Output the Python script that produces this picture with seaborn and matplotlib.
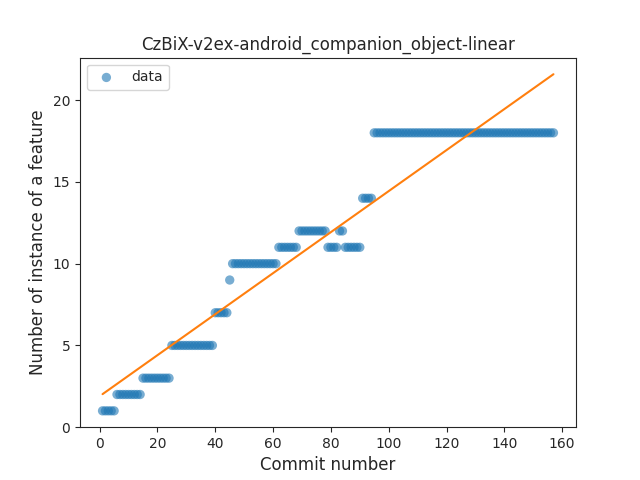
import numpy as np
import seaborn as sns
import matplotlib.pyplot as plt

# (value, first commit, last commit) runs
runs = [(1, 1, 5), (2, 6, 14), (3, 15, 24), (5, 25, 39), (7, 40, 44), (9, 45, 45),
        (10, 46, 61), (11, 62, 68), (12, 69, 78), (11, 79, 82), (12, 83, 84),
        (11, 85, 90), (14, 91, 94), (18, 95, 157)]

commits = []
counts = []
for val, a, b in runs:
    for c in range(a, b + 1):
        commits.append(c)
        counts.append(val)
commits = np.array(commits)
counts = np.array(counts)

sns.set_style("ticks")
plt.rcParams['font.family'] = ['DejaVu Sans']
fig, ax = plt.subplots(figsize=(6.4, 4.8), dpi=100)
sns.scatterplot(x=commits, y=counts, ax=ax, color="#1f77b4", alpha=0.6, s=45,
                edgecolor="none", label="data")
slope, icpt = np.polyfit(commits, counts, 1)
sns.lineplot(x=commits, y=slope * commits + icpt, ax=ax, color="#ff7f0e")
ax.set_ylim(0, 22.6)
ax.set_title("CzBiX-v2ex-android_companion_object-linear")
ax.set_xlabel("Commit number", fontsize=12)
ax.set_ylabel("Number of instance of a feature", fontsize=12)
ax.legend(loc="upper left")
fig.savefig("out.png")
